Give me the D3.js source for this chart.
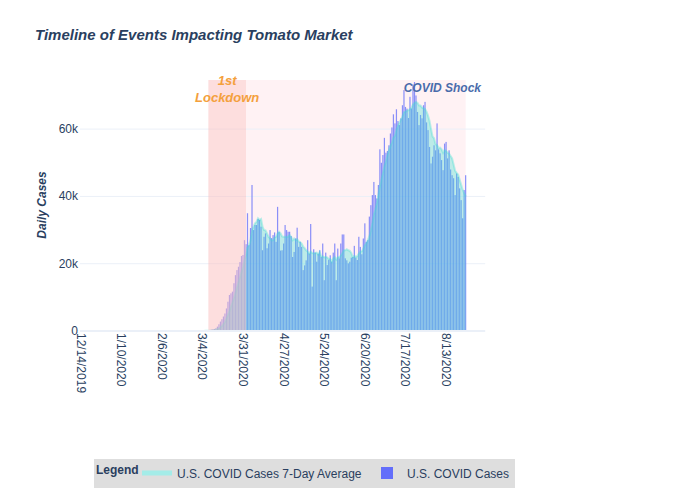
<!DOCTYPE html>
<html><head><meta charset="utf-8">
<script src="https://cdn.jsdelivr.net/npm/d3@7"></script>
<style>body{margin:0;background:#fff}svg{font-family:"Liberation Sans",Arial,sans-serif}</style>
</head><body><svg id="c" width="700" height="500"></svg>
<script>
// ---- data (values in thousands of cases) ----
const startDate = "2020-03-01";
const dailyCases = [
0,0,0.03,0.05,0.08,0.1,0.15,0.2,0.3,0.4,0.5,0.6,0.8,
1.3,2,2.8,3.5,4.3,5.2,6.7,8.7,10.7,11.2,11.7,14.2,16.6,18.1,19.1,20.5,22.3,22.6,27,25.8,35,25.5,30.6,43.4,30,31.5,31.5,33.3,33,31,24,28,29,24.6,26,30,27.6,28.5,
29.3,26.5,36.9,29.4,23.9,24,26,31.5,30,29.5,29.5,28.2,22,23.5,27.5,30.7,25,26.5,25,18.1,19.5,21,27,23,31.8,13.2,24.3,23.3,20.6,23,24,22,26,15.1,23.3,19.6,21.1,22.5,20.6,23.3,26,15.1,24.5,21.6,26,
28.7,28.7,21.6,21,20.1,20.6,21.8,22,25.3,21.8,21.1,28,25,22.8,27.5,32,26.5,27,34,37.4,40.4,44.3,40.4,39.4,43.4,54,50,52.3,57.4,53,53.5,55.2,58.7,60.5,64.4,61.7,65.9,62.4,61.2,63.2,67.1,71.6,66.6,66.1,63.3,
69.6,66.1,73.3,74,70,65.1,61.2,64.2,63.2,67.1,68.1,62,59.7,54.7,49.8,51.8,55.2,53.7,61.7,54,52.8,50.8,47.8,55.7,56.2,51.3,53.7,48,46.3,45.4,40.4,46.8,45.8,42.4,38.9,33.5,41.9,46.3
];
const avg7 = [
0,0,0,0.01,0.02,0.04,0.06,0.09,0.13,0.18,0.25,0.33,0.42,
0.58,0.8,1.1,1.5,2.0,2.7,3.7,4.8,6.0,7.3,8.5,9.8,11.3,12.9,14.5,16.0,17.5,19.0,21.0,22.5,24.8,25.6,27.0,30.0,31.0,32.0,32.4,33.5,33.0,33.3,31.0,30.0,29.9,29.0,28.0,27.6,27.0,27.0,
27.8,28.0,29.0,29.5,29.0,28.1,28.0,28.0,28.0,28.0,28.5,28.0,27.0,27.5,27.0,27.3,26.6,26.4,26.0,25.1,24.6,24.0,23.6,23.0,23.6,23.2,23.0,23.2,23.3,22.7,23.5,22.2,22.2,21.9,22.0,21.9,21.4,21.4,20.6,21.6,22.0,21.2,21.9,22.0,22.4,
23.1,24.0,24.0,24.3,24.0,23.8,23.2,21.9,22.3,22.1,22.2,23.0,23.6,23.7,24.4,25.5,26.1,27.0,28.1,29.9,32.1,34.7,36.1,38.1,40.5,43.0,45.0,47.0,49.0,50.5,52.3,53.7,55.0,56.0,57.5,58.0,59.8,61.0,62.0,62.8,63.8,65.0,65.2,65.5,65.6,
66.0,66.3,67.3,67.8,68.0,67.8,67.0,67.0,66.4,66.2,66.0,65.2,64.0,62.4,60.0,57.8,57.3,55.5,55.3,54.4,54.5,54.0,53.0,53.8,53.5,53.0,52.7,52.0,51.3,49.5,47.6,47.0,46.5,45.0,43.5,42.0,41.0,40.0
];
const xTickLabels = ["12/14/2019","1/10/2020","2/6/2020","3/4/2020","3/31/2020","4/27/2020","5/24/2020","6/20/2020","7/17/2020","8/13/2020"];
const yTicks = [0, 20, 40, 60];
const yTickLabels = ["0", "20k", "40k", "60k"];
const xDomain = ["2019-12-14", "2020-09-08"];
const yMax = 74.6;
const lockdownPeriod = ["2020-03-08", "2020-04-02"];
const shockPeriod = ["2020-04-02", "2020-08-26"];
const titleText = "Timeline of Events Impacting Tomato Market";
const seriesNames = ["U.S. COVID Cases 7-Day Average", "U.S. COVID Cases"];

// ---- drawing ----
const svg = d3.select("#c");
const parseISO = d3.utcParse("%Y-%m-%d");
const parseTick = d3.utcParse("%m/%d/%Y");
const L = 80.5, R = 485.2, T = 80, B = 331;
const x = d3.scaleUtc().domain(xDomain.map(parseISO)).range([L, R]);
const y = d3.scaleLinear().domain([0, yMax]).range([B, T]);
const t0 = parseISO(startDate);
const dates = dailyCases.map((_, i) => d3.utcDay.offset(t0, i));
const dayPx = x(d3.utcDay.offset(t0, 1)) - x(t0);
const bw = dayPx * 0.8;
const textCol = "#2a3f5f";

// shock rect (below)
svg.append("rect").attr("x", x(parseISO(shockPeriod[0]))).attr("y", T)
  .attr("width", x(parseISO(shockPeriod[1])) - x(parseISO(shockPeriod[0]))).attr("height", B - T)
  .attr("fill", "#fff2f4");

// grid
svg.append("g").selectAll("line").data(yTicks.filter(d => d > 0)).join("line")
  .attr("x1", 80).attr("x2", R).attr("y1", d => y(d)).attr("y2", d => y(d))
  .attr("stroke", "#ebf0f8").attr("stroke-width", 1);

// bars
svg.append("g").selectAll("rect").data(dailyCases).join("rect")
  .attr("x", (d, i) => x(dates[i]) - bw / 2).attr("width", bw)
  .attr("y", d => y(d)).attr("height", d => B - y(d))
  .attr("fill", "#636efa").attr("opacity", 0.75);

// 7-day average area + line
const area = d3.area().x((d, i) => x(dates[i])).y0(B).y1(d => y(d));
svg.append("path").datum(avg7).attr("d", area).attr("fill", "#40e0d0").attr("fill-opacity", 0.35);
const line = d3.line().x((d, i) => x(dates[i])).y(d => y(d));
svg.append("path").datum(avg7).attr("d", line).attr("fill", "none")
  .attr("stroke", "#40e0d0").attr("stroke-opacity", 0.35).attr("stroke-width", 2);

// lockdown rect (above)
svg.append("rect").attr("x", x(parseISO(lockdownPeriod[0]))).attr("y", T)
  .attr("width", x(parseISO(lockdownPeriod[1])) - x(parseISO(lockdownPeriod[0]))).attr("height", B - T)
  .attr("fill", "rgb(252,190,190)").attr("opacity", 0.5);

// zero line
svg.append("line").attr("x1", 80).attr("x2", R).attr("y1", B).attr("y2", B)
  .attr("stroke", "#ebf0f8").attr("stroke-width", 2);

// y tick labels
svg.append("g").selectAll("text").data(yTicks).join("text")
  .attr("x", 78).attr("y", d => y(d) + 4).attr("text-anchor", "end")
  .attr("font-size", 12).attr("fill", textCol).text((d, i) => yTickLabels[i]);

// x tick labels
svg.append("g").selectAll("text").data(xTickLabels).join("text")
  .attr("transform", d => `translate(${x(parseTick(d)) - 4},${B + 2}) rotate(90)`)
  .attr("text-anchor", "start").attr("font-size", 12).attr("fill", textCol).text(d => d);

// title
svg.append("text").attr("x", 35).attr("y", 40).attr("font-size", 15).attr("font-weight", "bold")
  .attr("font-style", "italic").attr("fill", textCol).text(titleText);

// y axis title
svg.append("text").attr("transform", "translate(46,205) rotate(-90)").attr("text-anchor", "middle")
  .attr("font-size", 12).attr("font-weight", "bold").attr("font-style", "italic")
  .attr("fill", textCol).text("Daily Cases");

// annotations
const lcx = (x(parseISO(lockdownPeriod[0])) + x(parseISO(lockdownPeriod[1]))) / 2;
const ann = svg.append("text").attr("text-anchor", "middle").attr("font-size", 13)
  .attr("font-weight", "bold").attr("font-style", "italic").attr("fill", "#f4a03c");
ann.append("tspan").attr("x", lcx).attr("y", 84.5).text("1st");
ann.append("tspan").attr("x", lcx).attr("y", 101.5).text("Lockdown");
svg.append("text").attr("x", 481).attr("y", 92).attr("text-anchor", "end").attr("font-size", 12)
  .attr("font-weight", "bold").attr("font-style", "italic").attr("fill", "#4a6cab").text("COVID Shock");

// legend
const lg = svg.append("g");
lg.append("rect").attr("x", 94).attr("y", 459).attr("width", 421).attr("height", 29).attr("fill", "#dedede");
lg.append("text").attr("x", 96).attr("y", 474).attr("font-size", 12).attr("font-weight", "bold")
  .attr("fill", textCol).text("Legend");
lg.append("rect").attr("x", 142).attr("y", 470.5).attr("width", 30).attr("height", 5).attr("fill", "#a4ece8");
lg.append("text").attr("x", 177).attr("y", 478).attr("font-size", 12).attr("fill", textCol).text(seriesNames[0]);
lg.append("rect").attr("x", 381).attr("y", 467).attr("width", 12).attr("height", 12).attr("fill", "#636efa");
lg.append("text").attr("x", 407).attr("y", 478).attr("font-size", 12).attr("fill", textCol).text(seriesNames[1]);
</script></body></html>
